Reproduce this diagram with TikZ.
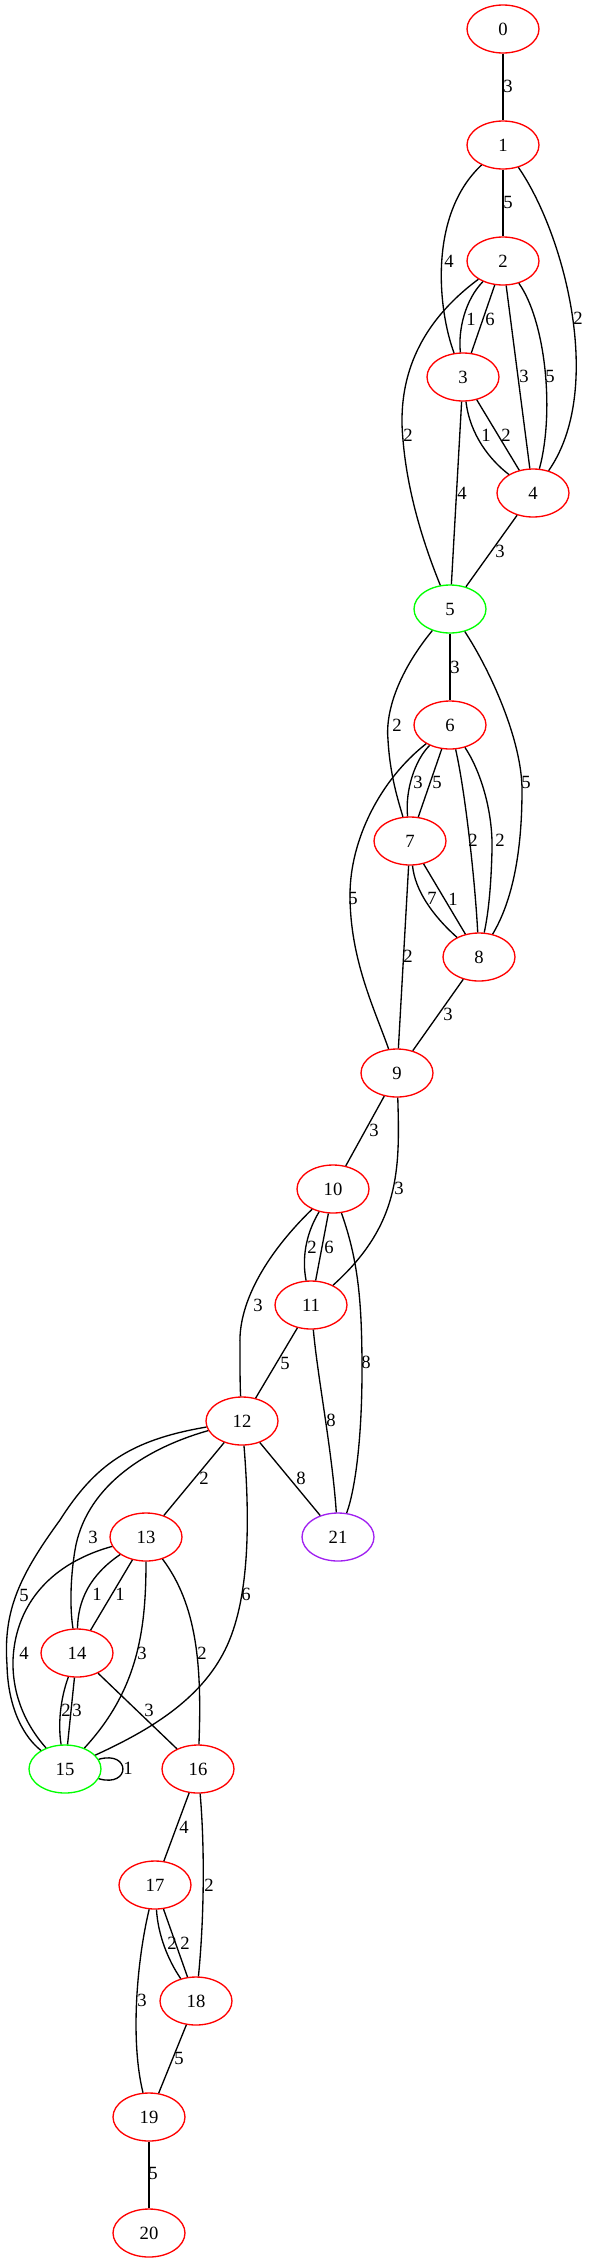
\documentclass[tikz,border=0pt]{standalone}
\usepackage{fontspec}
\setmainfont{Liberation Serif}
\usetikzlibrary{shapes, arrows.meta, positioning}
\definecolor{vpurple}{HTML}{A020F0}

\begin{document}
\begin{tikzpicture}[x=0.75pt, y=-0.75pt,
	vtx/.style={ellipse, draw=red, line width=1pt, minimum width=54pt, minimum height=36pt, inner sep=0pt, font=\fontsize{14}{16}\selectfont},
	lbl/.style={inner sep=0pt, font=\fontsize{14}{16}\selectfont},
	link/.style={line width=1pt}]
	\useasboundingbox (0,0) rectangle (589,2263);
	
	% 顶点
	\node[vtx] (v0) at (503,29) {0};
	\node[vtx] (v1) at (503,145) {1};
	\node[vtx] (v2) at (503,261) {2};
	\node[vtx] (v3) at (463,377) {3};
	\node[vtx] (v4) at (533,493) {4};
	\node[vtx, draw=green] (v5) at (450,609) {5};
	\node[vtx] (v6) at (450,725) {6};
	\node[vtx] (v7) at (410,841) {7};
	\node[vtx] (v8) at (479,957) {8};
	\node[vtx] (v9) at (397,1073) {9};
	\node[vtx] (v10) at (333,1189) {10};
	\node[vtx] (v11) at (311,1305) {11};
	\node[vtx] (v12) at (242,1421) {12};
	\node[vtx] (v13) at (146,1537) {13};
	\node[vtx, draw=vpurple] (v21) at (338,1537) {21};
	\node[vtx] (v14) at (77,1653) {14};
	\node[vtx, draw=green] (v15) at (65,1769) {15};
	\node[vtx] (v16) at (198,1769) {16};
	\node[vtx] (v17) at (155,1885) {17};
	\node[vtx] (v18) at (196,2001) {18};
	\node[vtx] (v19) at (149,2117) {19};
	\node[vtx] (v20) at (149,2233) {20};
	
	% 边 0--5
	\draw[link] (v0) -- (v1) node[lbl] at (508,86) {3};
	\draw[link] (v1) -- (v2) node[lbl] at (508,202) {5};
	\draw[link] (v1) .. controls (428,215) and (438,310) .. (v3) node[lbl] at (449,261) {4};
	\draw[link] (v1) .. controls (565,235) and (605,390) .. (v4) node[lbl] at (578,318) {2};
	\draw[link] (v2) .. controls (465,300) and (458,330) .. (v3) node[lbl] at (471,319) {1};
	\draw[link] (v2) -- (v3) node[lbl] at (490,319) {6};
	\draw[link] (v2) -- (v4) node[lbl] at (524,376) {3};
	\draw[link] (v2) .. controls (545,320) and (555,410) .. (v4) node[lbl] at (550,376) {5};
	\draw[link] (v2) .. controls (410,330) and (398,390) .. (403,440)
		.. controls (408,500) and (428,555) .. (v5) node[lbl] at (408,435) {2};
	\draw[link] (v3) .. controls (470,435) and (490,460) .. (v4) node[lbl] at (486,435) {1};
	\draw[link] (v3) -- (v4) node[lbl] at (506,435) {2};
	\draw[link] (v3) -- (v5) node[lbl] at (462,493) {4};
	\draw[link] (v4) -- (v5) node[lbl] at (500,551) {3};
	
	% 边 5--9
	\draw[link] (v5) -- (v6) node[lbl] at (455,667) {3};
	\draw[link] (v5) .. controls (400,670) and (385,710) .. (388,740)
		.. controls (390,775) and (398,800) .. (v7) node[lbl] at (397,725) {2};
	\draw[link] (v5) .. controls (490,670) and (522,740) .. (522,790)
		.. controls (522,860) and (510,905) .. (v8) node[lbl] at (526,782) {5};
	\draw[link] (v6) .. controls (415,760) and (405,790) .. (v7) node[lbl] at (418,782) {3};
	\draw[link] (v6) -- (v7) node[lbl] at (437,782) {5};
	\draw[link] (v6) .. controls (465,790) and (475,880) .. (v8) node[lbl] at (473,840) {2};
	\draw[link] (v6) .. controls (480,770) and (493,810) .. (492,850)
		.. controls (491,890) and (488,915) .. (v8) node[lbl] at (500,840) {2};
	\draw[link] (v6) .. controls (380,780) and (350,840) .. (350,895)
		.. controls (350,960) and (375,1010) .. (v9) node[lbl] at (353,898) {5};
	\draw[link] (v7) .. controls (415,890) and (432,915) .. (v8) node[lbl] at (432,898) {7};
	\draw[link] (v7) -- (v8) node[lbl] at (453,899) {1};
	\draw[link] (v7) -- (v9) node[lbl] at (408,956) {2};
	\draw[link] (v8) -- (v9) node[lbl] at (448,1014) {3};
	
	% 边 9--12
	\draw[link] (v9) -- (v10) node[lbl] at (374,1130) {3};
	\draw[link] (v9) .. controls (400,1170) and (400,1225) .. (v11) node[lbl] at (399,1188) {3};
	\draw[link] (v10) .. controls (305,1235) and (302,1260) .. (v11) node[lbl] at (312,1247) {2};
	\draw[link] (v10) -- (v11) node[lbl] at (329,1247) {6};
	\draw[link] (v10) .. controls (270,1250) and (238,1300) .. (240,1345)
		.. controls (240,1370) and (240,1385) .. (v12) node[lbl] at (258,1305) {3};
	\draw[link] (v10) .. controls (358,1260) and (362,1300) .. (362,1370)
		.. controls (362,1440) and (355,1490) .. (v21) node[lbl] at (366,1362) {8};
	\draw[link] (v11) -- (v12) node[lbl] at (285,1363) {5};
	\draw[link] (v11) .. controls (318,1380) and (332,1450) .. (v21) node[lbl] at (331,1420) {8};
	
	% 边 12--16
	\draw[link] (v12) -- (v13) node[lbl] at (204,1478) {2};
	\draw[link] (v12) -- (v21) node[lbl] at (301,1478) {8};
	\draw[link] (v12) .. controls (140,1450) and (85,1490) .. (75,1550)
		.. controls (70,1580) and (70,1610) .. (v14) node[lbl] at (93,1537) {3};
	\draw[link] (v12) .. controls (130,1440) and (95,1465) .. (60,1520)
		.. controls (20,1575) and (3,1610) .. (7,1665)
		.. controls (8,1710) and (25,1738) .. (v15) node[lbl] at (24,1595) {5};
	\draw[link] (v12) .. controls (250,1520) and (250,1600) .. (225,1650)
		.. controls (200,1700) and (150,1730) .. (v15) node[lbl] at (246,1594) {6};
	\draw[link] (v13) .. controls (90,1575) and (78,1600) .. (v14) node[lbl] at (97,1594) {1};
	\draw[link] (v13) -- (v14) node[lbl] at (120,1594) {1};
	\draw[link] (v13) .. controls (45,1565) and (15,1610) .. (13,1660)
		.. controls (12,1700) and (30,1730) .. (v15) node[lbl] at (24,1653) {4};
	\draw[link] (v13) .. controls (146,1630) and (138,1690) .. (v15) node[lbl] at (142,1653) {3};
	\draw[link] (v13) .. controls (197,1605) and (202,1665) .. (v16) node[lbl] at (202,1653) {2};
	\draw[link] (v14) .. controls (60,1700) and (58,1725) .. (v15) node[lbl] at (66,1710) {2};
	\draw[link] (v14) -- (v15) node[lbl] at (77,1710) {3};
	\draw[link] (v14) -- (v16) node[lbl] at (149,1710) {3};
	\draw[link] (v15) .. controls (131,1750) and (131,1788) .. (v15) node[lbl] at (128,1768) {1};
	
	% 边 16--20
	\draw[link] (v16) -- (v17) node[lbl] at (184,1827) {4};
	\draw[link] (v16) .. controls (205,1850) and (204,1920) .. (v18) node[lbl] at (209,1885) {2};
	\draw[link] (v17) .. controls (158,1935) and (168,1960) .. (v18) node[lbl] at (172,1943) {2};
	\draw[link] (v17) -- (v18) node[lbl] at (185,1943) {2};
	\draw[link] (v17) .. controls (137,1960) and (130,2040) .. (v19) node[lbl] at (142,2000) {3};
	\draw[link] (v18) -- (v19) node[lbl] at (179,2058) {5};
	\draw[link] (v19) -- (v20) node[lbl] at (153,2173) {5};
\end{tikzpicture}
\end{document}
